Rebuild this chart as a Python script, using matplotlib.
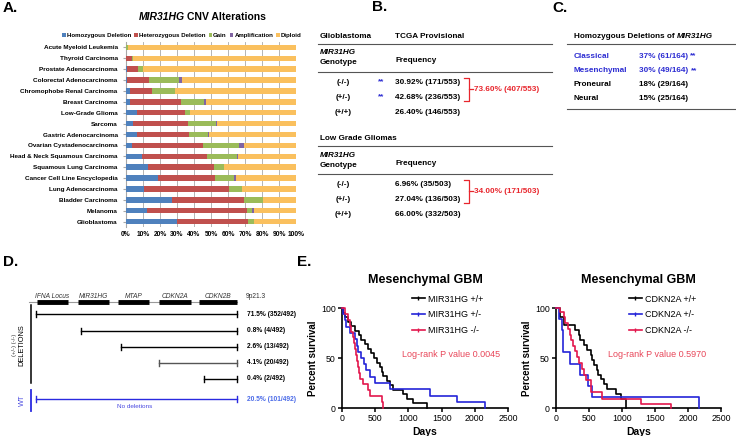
import numpy as np
import matplotlib.pyplot as plt
from matplotlib.lines import Line2D

plt.rcParams['font.family'] = ['Liberation Sans', 'DejaVu Sans']

W, H = 736, 436

# ---------------- A: CNV alterations
cancers = ['Acute Myeloid Leukemia', 'Thyroid Carcinoma', 'Prostate Adenocarcinoma',
           'Colorectal Adenocarcinoma', 'Chromophobe Renal Carcinoma', 'Breast Carcinoma',
           'Low-Grade Glioma', 'Sarcoma', 'Gastric Adenocarcinoma', 'Ovarian Cystadenocarcinoma',
           'Head & Neck Squamous Carcinoma', 'Squamous Lung Carcinoma',
           'Cancer Cell Line Encyclopedia', 'Lung Adenocarcinoma', 'Bladder Carcinoma',
           'Melanoma', 'Glioblastoma']
homo_del = [0, 0, 0.8, 0.4, 2.3, 2.3, 6.7, 4.3, 6.7, 3.3, 9.2, 13.0, 18.6, 10.8, 27.3, 12.2, 30.2]
hetero_del = [0, 3.3, 6.0, 13.0, 13.0, 30.0, 28.0, 32.0, 30.4, 42.0, 38.4, 39.0, 33.7, 49.8, 42.0, 59.0, 41.5]
gain = [1.2, 1.0, 3.0, 18.0, 13.5, 13.5, 3.0, 16.5, 11.4, 21.4, 17.5, 5.7, 11.4, 7.8, 11.4, 3.1, 3.5]
amplification = [0, 0, 0, 1.3, 0, 1.0, 0, 0.8, 0.5, 2.7, 1.0, 0, 0.8, 0, 0, 0.8, 0]
diploid = [98.8, 95.7, 90.2, 67.3, 71.2, 53.2, 62.3, 46.4, 51.0, 30.6, 33.9, 42.3, 35.5, 31.6, 19.3, 24.9, 24.8]
cnv_names = ['Homozygous Deletion', 'Heterozygous Deletion', 'Gain', 'Amplification', 'Diploid']
cnv_colors = ['#4f81bd', '#c0504d', '#9bbb59', '#8064a2', '#fac05e']

# ---------------- B: genotype frequencies
genotypes = ['(-/-)', '(+/-)', '(+/+)']
gbm_freq = ['30.92% (171/553)', '42.68% (236/553)', '26.40% (146/553)']
gbm_sig = ['**', '**', '']
gbm_total = '73.60% (407/553)'
lgg_freq = ['6.96% (35/503)', '27.04% (136/503)', '66.00% (332/503)']
lgg_total = '34.00% (171/503)'

# ---------------- C: subtypes
subtypes = ['Classical', 'Mesenchymal', 'Proneural', 'Neural']
subtype_freq = ['37% (61/164)', '30% (49/164)', '18% (29/164)', '15% (25/164)']
subtype_sig = ['**', '**', '', '']

# ---------------- D: 9p21.3 deletions
genes = ['IFNA Locus', 'MIR31HG', 'MTAP', 'CDKN2A', 'CDKN2B']
gene_len = [0.77, 0.77, 0.77, 0.8, 0.94]
del_start = [-0.03, 1.08, 2.07, 3.0, 4.12]
del_end = 4.94
del_labels = ['71.5% (352/492)', '0.8% (4/492)', '2.6% (13/492)', '4.1% (20/492)', '0.4% (2/492)']
wt_label = '20.5% (101/492)'

# ---------------- E: survival (days, percent)
mir_pp_t = [0, 15, 50, 91, 140, 192, 250, 293, 343, 394, 444, 480, 520, 571, 596, 621, 672, 722, 773, 924, 975, 1076, 1280]
mir_pp_s = [100, 95, 91, 86, 82, 77, 73, 68, 64, 59, 55, 50, 45, 41, 36, 32, 27, 23, 18, 14, 9, 5, 0]
mir_pm_t = [0, 20, 40, 66, 116, 192, 230, 242, 293, 330, 359, 419, 495, 722, 1328, 1732, 2160]
mir_pm_s = [100, 94, 88, 81, 75, 69, 62, 56, 50, 44, 38, 31, 25, 19, 12.5, 6.25, 0]
mir_mm_t = [0, 40, 90, 116, 141, 160, 177, 195, 207, 225, 242, 260, 278, 318, 394, 429, 596, 621]
mir_mm_s = [100, 94, 88, 82, 76, 71, 65, 59, 53, 47, 41, 35, 29, 24, 18, 12, 6, 0]

cdk_pp_t = [0, 66, 117, 294, 345, 371, 421, 472, 523, 548, 574, 614, 640, 675, 726, 777, 904, 980, 1060]
cdk_pp_s = [100, 91, 83, 78, 73, 68, 63, 58, 53, 48, 43, 38, 33, 29, 24, 19, 14, 9, 0]
cdk_pm_t = [0, 41, 91, 100, 107, 208, 360, 482, 548, 2160]
cdk_pm_s = [100, 89, 78, 67, 56, 44, 33, 22, 11, 0]
cdk_mm_t = [0, 60, 117, 142, 178, 208, 234, 259, 284, 320, 355, 396, 421, 462, 523, 700, 1284, 1740]
cdk_mm_s = [100, 96, 91, 85, 79, 73, 68, 62, 57, 51, 45, 39, 33, 28, 16, 9, 4, 0]

km_colors = ['#000000', '#2424d8', '#e3174d']

fig = plt.figure(figsize=(W / 100, H / 100), dpi=100)
renderer = fig.canvas.get_renderer()


def px(x, y):
    return x / W, 1 - y / H


# ---- panel A
axA = fig.add_axes([126 / W, 1 - 227 / H, 170 / W, 185 / H])
ypos = np.arange(len(cancers))
left = np.zeros(len(cancers))
for vals, col, lab in zip([homo_del, hetero_del, gain, amplification, diploid], cnv_colors, cnv_names):
    axA.barh(ypos, vals, left=left, height=0.5, color=col, label=lab, zorder=3)
    left += np.array(vals)
axA.set_ylim(len(cancers) - 0.5, -0.5)
axA.set_xlim(0, 100)
axA.set_xticks(range(0, 101, 10))
axA.set_xticklabels([f'{v}%' for v in range(0, 101, 10)], fontsize=4.8, fontweight='bold')
axA.set_yticks(ypos)
axA.set_yticklabels(cancers, fontsize=4.6, fontweight='bold')
axA.xaxis.grid(True, color='#a8a8a8', lw=0.6, zorder=0)
for s in ['top', 'right', 'bottom']:
    axA.spines[s].set_visible(False)
axA.spines['left'].set_color('#a8a8a8')
axA.tick_params(axis='x', length=0, pad=3)
axA.tick_params(axis='y', length=2, color='#a8a8a8', pad=4)
axA.legend(loc='lower center', bbox_to_anchor=(0.33, 1.0), ncol=5, frameon=False,
           prop={'size': 4.4, 'weight': 'bold'}, handlelength=0.55, handleheight=0.55,
           handletextpad=0.2, columnspacing=0.5, borderaxespad=0.25)
fig.text(*px(185, 17), 'MIR31HG', fontsize=7.5, fontweight='bold', fontstyle='italic',
         ha='right', va='center')
fig.text(*px(187, 17), 'CNV Alterations', fontsize=7.5, fontweight='bold', ha='left', va='center')

# ---- overlay in pixel coordinates for tables and labels
ov = fig.add_axes([0, 0, 1, 1])
ov.set_xlim(0, W)
ov.set_ylim(H, 0)
ov.axis('off')


def seq_text(x, y, parts, **kw):
    # draw text pieces one after another, return the end x
    for s, extra in parts:
        t = ov.text(x, y, s, va='center', ha='left', **kw, **extra)
        x += t.get_window_extent(renderer).width
    return x


for lab, (x, y) in zip(['A.', 'B.', 'C.', 'D.', 'E.'],
                       [(3, 8), (372, 7), (552, 8), (3, 262), (297, 262)]):
    ov.text(x, y, lab, fontsize=11, fontweight='bold', ha='left', va='center')

line_kw = dict(color='#555555', lw=0.8)
red = '#e8262d'
blue_txt = '#2d2dd2'
fs = 5.9
bold = {'fontweight': 'bold'}


def geno_table(y0, title, freqs, sigs, total):
    ov.text(320, y0, title, fontsize=fs, fontweight='bold', va='center')
    if title == 'Glioblastoma':
        ov.text(395, y0, 'TCGA Provisional', fontsize=fs, fontweight='bold', va='center')
    ov.plot([318, 552], [y0 + 8, y0 + 8], **line_kw)
    ov.text(320, y0 + 17, 'MIR31HG', fontsize=fs, fontweight='bold', fontstyle='italic', va='center')
    ov.text(320, y0 + 27, 'Genotype', fontsize=fs, fontweight='bold', va='center')
    ov.text(395, y0 + 25, 'Frequency', fontsize=fs, fontweight='bold', va='center')
    ov.plot([318, 552], [y0 + 36, y0 + 36], **line_kw)
    rows = [y0 + 46, y0 + 61, y0 + 76]
    for g, f, sg, yy in zip(genotypes, freqs, sigs, rows):
        ov.text(343, yy, g, fontsize=fs, fontweight='bold', ha='center', va='center')
        ov.text(395, yy, f, fontsize=fs, fontweight='bold', va='center')
        if sg:
            ov.text(378, yy, sg, fontsize=fs, fontweight='bold', color=blue_txt, va='center')
    ov.plot([464, 469, 469, 464], [rows[0] - 4, rows[0] - 4, rows[1] + 4, rows[1] + 4],
            color=red, lw=0.9)
    ov.plot([469, 473], [(rows[0] + rows[1]) / 2] * 2, color=red, lw=0.9)
    ov.text(474, (rows[0] + rows[1]) / 2, total, fontsize=fs, fontweight='bold',
            color=red, va='center')


geno_table(36, 'Glioblastoma', gbm_freq, gbm_sig, gbm_total)
geno_table(138, 'Low Grade Gliomas', lgg_freq, ['', '', ''], lgg_total)

# ---- panel C
seq_text(574, 37, [('Homozygous Deletions of ', bold),
                   ('MIR31HG', {'fontweight': 'bold', 'fontstyle': 'italic'})], fontsize=fs)
ov.plot([567, 736], [44, 44], **line_kw)
for i, (st, fr, sg) in enumerate(zip(subtypes, subtype_freq, subtype_sig)):
    yy = 56 + i * 14.3
    col = blue_txt if sg else 'black'
    ov.text(574, yy, st, fontsize=fs, fontweight='bold', color=col, va='center')
    seq_text(639, yy, [(fr + ' ', bold), (sg, bold)], fontsize=fs, color=col)
ov.plot([567, 736], [109, 109], **line_kw)

# ---- panel D
axD = fig.add_axes([0, 1 - 420 / H, 300 / W, 140 / H])
axD.set_xlim(-37 / 40.5, (300 - 37) / 40.5)
axD.set_ylim(420, 280)
axD.axis('off')
axD.plot([-0.2, 4.94], [302, 302], color='#9a9a9a', lw=0.8)
for i, (g, gl) in enumerate(zip(genes, gene_len)):
    axD.plot([i, i + gl], [302, 302], color='black', lw=3.5, solid_capstyle='butt')
    axD.text(i + gl / 2, 296, g, fontsize=4.8, fontstyle='italic', color='#333333',
             ha='center', va='center')
axD.text(5.4, 297, '9p21.3', fontsize=4.8, color='#333333', ha='center', va='center')
del_rows = [314, 331, 347, 363, 379]
for st, lab, yy in zip(del_start, del_labels, del_rows):
    col = '#555555' if lab.startswith('4.1') else 'black'
    axD.plot([st, del_end], [yy, yy], color=col, lw=1.0)
    axD.plot([st, st], [yy - 3, yy + 3], color=col, lw=1.0)
    axD.plot([del_end, del_end], [yy - 3, yy + 3], color=col, lw=1.0)
    axD.text(5.18, yy, lab, fontsize=4.8, fontweight='bold', ha='left', va='center')
wt_blue = '#2a2ae0'
axD.plot([-0.03, del_end], [399, 399], color=wt_blue, lw=1.0)
axD.plot([-0.03, -0.03], [396, 402], color=wt_blue, lw=1.0)
axD.plot([del_end, del_end], [396, 402], color=wt_blue, lw=1.0)
axD.text(2.4, 406, 'No deletions', fontsize=4.6, color='#4a4ae0', ha='center', va='center')
axD.text(5.18, 399, wt_label, fontsize=4.8, fontweight='bold', color='#4a6ae8',
         ha='left', va='center')
axD.plot([-0.15, -0.15], [305, 383], color='black', lw=1.1)
axD.plot([-0.15, -0.15], [390, 411], color=wt_blue, lw=1.3)
axD.text(-0.55, 345, '(+/-) (-/-)', fontsize=4.2, rotation=90, ha='center', va='center',
         color='#333333')
axD.text(-0.37, 345, 'DELETIONS', fontsize=5.3, rotation=90, ha='center', va='center')
axD.text(-0.37, 400, 'WT', fontsize=5.3, rotation=90, ha='center', va='center', color='#4a4ae0')


# ---- panel E
def km_panel(rect, curves, names, ptext, leg_x):
    ax = fig.add_axes(rect)
    for (t, s), col in zip(curves, km_colors):
        ax.step(t, s, where='post', color=col, lw=1.2, clip_on=False, zorder=3)
    ax.set_xlim(0, 2500)
    ax.set_ylim(0, 100)
    ax.set_xticks(range(0, 2501, 500))
    ax.set_yticks([0, 50, 100])
    ax.tick_params(labelsize=6.3, width=1.1, length=3, pad=1.5)
    for s in ['top', 'right']:
        ax.spines[s].set_visible(False)
    for s in ['left', 'bottom']:
        ax.spines[s].set_linewidth(1.2)
    ax.set_xlabel('Days', fontsize=7.5, fontweight='bold', labelpad=3)
    ax.set_ylabel('Percent survival', fontsize=7, fontweight='bold', labelpad=2)
    ax.set_title('Mesenchymal GBM', fontsize=9, fontweight='bold', pad=18)
    ax.text(ptext[0], ptext[1], 'Log-rank P value ' + ptext[2], transform=ax.transAxes,
            fontsize=6.5, color='#e8475a', ha='left', va='center')
    handles = [Line2D([], [], color=c, lw=1.2, marker='|', markersize=3.5) for c in km_colors]
    ax.legend(handles, names, loc='upper left', bbox_to_anchor=(leg_x, 1.17), frameon=False,
              fontsize=6.5, handlelength=1.4, handletextpad=0.4, labelspacing=0.75,
              borderaxespad=0)
    return ax


km_panel([342 / W, 1 - 408 / H, 166 / W, 100 / H],
         [(mir_pp_t, mir_pp_s), (mir_pm_t, mir_pm_s), (mir_mm_t, mir_mm_s)],
         ['MIR31HG +/+', 'MIR31HG +/-', 'MIR31HG -/-'], (0.36, 0.54, '0.0045'), 0.4)
km_panel([556 / W, 1 - 408 / H, 165 / W, 100 / H],
         [(cdk_pp_t, cdk_pp_s), (cdk_pm_t, cdk_pm_s), (cdk_mm_t, cdk_mm_s)],
         ['CDKN2A +/+', 'CDKN2A +/-', 'CDKN2A -/-'], (0.315, 0.54, '0.5970'), 0.42)

fig.savefig('out.png', dpi=100)
